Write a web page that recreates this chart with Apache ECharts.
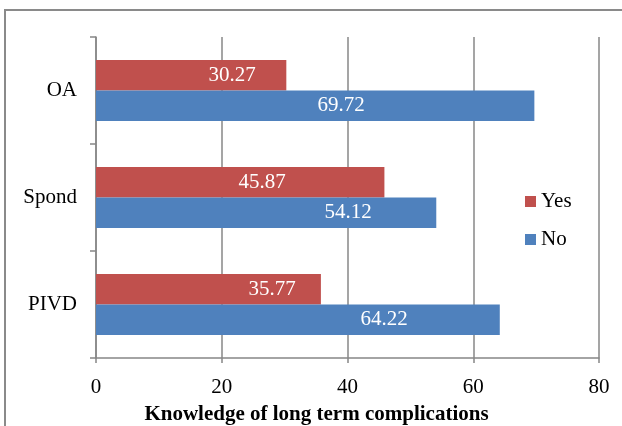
<!DOCTYPE html>
<html>
<head>
<meta charset="utf-8">
<script src="https://cdn.jsdelivr.net/npm/echarts@6/dist/echarts.min.js"></script>
<style>html,body{margin:0;padding:0;background:#fff}#c{width:622px;height:426px}</style>
</head>
<body>
<div id="c"></div>
<script>
const categories = ['PIVD', 'Spond', 'OA'];
const yesValues = [35.77, 45.87, 30.27];
const noValues = [64.22, 54.12, 69.72];
const xTicks = [0, 20, 40, 60, 80];
const axisTitle = 'Knowledge of long term complications';

// label placement (pixel offset of label centre from bar start), layout only
const yesLabelOffset = [176, 166, 136];
const noLabelOffset = [288, 252, 245];

const FONT = '"Liberation Serif", "Times New Roman", serif';
const GRAY = '#878787';

function items(vals, offs) {
  return vals.map((v, i) => ({
    value: v,
    label: { position: [offs[i], '50%'] }
  }));
}

const chart = echarts.init(document.getElementById('c'), null, { renderer: 'canvas' });
chart.setOption({
  animation: false,
  backgroundColor: '#fff',
  textStyle: { fontFamily: FONT },
  grid: { left: 96, right: 23, top: 37, bottom: 68, containLabel: false, outerBoundsMode: 'none' },
  legend: {
    data: ['Yes', 'No'],
    orient: 'vertical',
    left: 520,
    top: 186,
    itemWidth: 11,
    itemHeight: 11,
    itemGap: 17,
    icon: 'rect',
    textStyle: { fontFamily: FONT, fontSize: 21, color: '#000', padding: [0, 0, 0, 0] }
  },
  xAxis: {
    type: 'value',
    min: xTicks[0],
    max: xTicks[xTicks.length - 1],
    interval: 20,
    name: axisTitle,
    nameLocation: 'middle',
    nameGap: 46,
    nameTextStyle: { fontFamily: FONT, fontSize: 21, fontWeight: 'bold', color: '#000', padding: [0, 62, 0, 0] },
    axisLine: { show: true, lineStyle: { color: GRAY, width: 1.5 } },
    axisTick: { show: true, length: 5, lineStyle: { color: GRAY, width: 1.5 } },
    axisLabel: { fontFamily: FONT, fontSize: 21, color: '#000', margin: 19 },
    splitLine: { show: true, lineStyle: { color: GRAY, width: 1.5 } }
  },
  yAxis: {
    type: 'category',
    data: categories,
    axisLine: { show: true, lineStyle: { color: GRAY, width: 1.5 } },
    axisTick: { show: true, length: 6, lineStyle: { color: GRAY, width: 1.5 } },
    axisLabel: { fontFamily: FONT, fontSize: 21, color: '#000', margin: 19 },
    splitLine: { show: false }
  },
  series: [
    {
      name: 'Yes',
      type: 'bar',
      data: items(yesValues, yesLabelOffset),
      barWidth: 30.5,
      barGap: '0%',
      itemStyle: { color: '#C0504D' },
      label: { show: true, color: '#fff', fontFamily: FONT, fontSize: 21, align: 'center', verticalAlign: 'middle' }
    },
    {
      name: 'No',
      type: 'bar',
      data: items(noValues, noLabelOffset),
      barWidth: 30.5,
      barGap: '0%',
      itemStyle: { color: '#4F81BD' },
      label: { show: true, color: '#fff', fontFamily: FONT, fontSize: 21, align: 'center', verticalAlign: 'middle' }
    }
  ],
  graphic: [{
    type: 'rect',
    shape: { x: 5, y: 10, width: 700, height: 600 },
    style: { fill: 'none', stroke: '#8a8a8a', lineWidth: 2 },
    silent: true,
    z: 100
  }]
});
</script>
</body>
</html>
